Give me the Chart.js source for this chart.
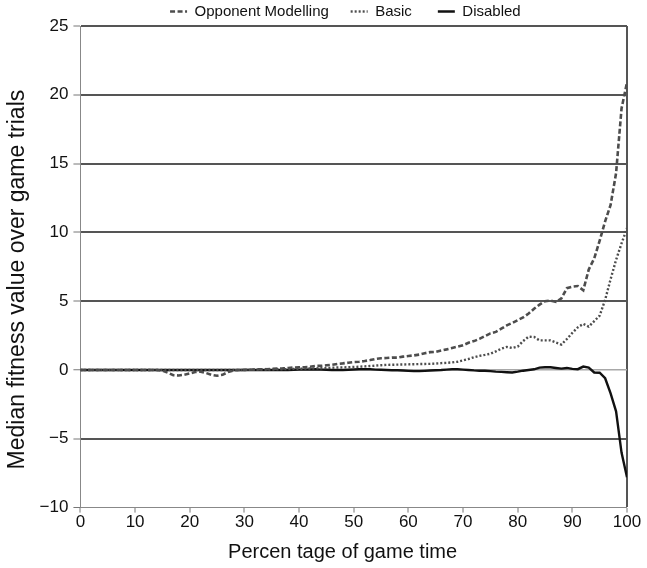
<!DOCTYPE html>
<html>
<head>
<meta charset="utf-8">
<script src="https://cdn.jsdelivr.net/npm/chart.js@4.4.1/dist/chart.umd.min.js"></script>
<style>
  html, body { margin: 0; padding: 0; background: #fff; }
  #wrap { width: 647px; height: 568px; position: relative; }
</style>
</head>
<body>
<div id="wrap"><canvas id="chart"></canvas></div>
<script>
// percentage of game time
const gameTime = [
  0, 1, 2, 3, 4, 5, 6, 7, 8, 9, 10, 11, 12, 13, 14, 15, 16, 17, 18, 19,
  20, 21, 22, 23, 24, 25, 26, 27, 28, 29, 30, 31, 32, 33, 34, 35, 36, 37, 38, 39,
  40, 41, 42, 43, 44, 45, 46, 47, 48, 49, 50, 51, 52, 53, 54, 55, 56, 57, 58, 59,
  60, 61, 62, 63, 64, 65, 66, 67, 68, 69, 70, 71, 72, 73, 74, 75, 76, 77, 78, 79,
  80, 81, 82, 83, 84, 85, 86, 87, 88, 89, 90, 91, 92, 93, 94, 95, 96, 97, 98, 99, 100
];

const opponentModelling = [
  0, 0, 0, 0, 0, 0, 0, 0, 0, 0, 0, 0, 0, 0, 0, -0.05, -0.2, -0.38, -0.4, -0.34,
  -0.25, -0.15, -0.12, -0.22, -0.35, -0.42, -0.35, -0.15, -0.03, 0, 0.01, 0.02, 0.04, 0.05, 0.06, 0.08, 0.1, 0.12, 0.15, 0.18,
  0.2, 0.2, 0.24, 0.3, 0.3, 0.34, 0.38, 0.44, 0.48, 0.53, 0.58, 0.6, 0.65, 0.72, 0.8, 0.85, 0.87, 0.9, 0.9, 0.97,
  1.02, 1.06, 1.12, 1.22, 1.3, 1.32, 1.42, 1.5, 1.6, 1.7, 1.8, 1.98, 2.1, 2.26, 2.46, 2.66, 2.77, 3.0, 3.24, 3.42,
  3.62, 3.82, 4.1, 4.45, 4.75, 5.0, 5.05, 4.95, 5.2, 5.95, 6.05, 6.1, 5.8, 7.3, 8.1, 9.4, 10.8, 12.0, 14.3, 19.0, 20.9
];

const basic = [
  0, 0, 0, 0, 0, 0, 0, 0, 0, 0, 0, 0, 0, 0, 0, 0, 0, 0, 0, 0,
  0, 0, 0, 0, 0, 0, 0, 0, 0, 0, 0, 0.02, 0.02, 0.03, 0.03, 0.04, 0.05, 0.06, 0.07, 0.08,
  0.09, 0.1, 0.11, 0.12, 0.13, 0.14, 0.16, 0.18, 0.19, 0.2, 0.22, 0.24, 0.26, 0.29, 0.32, 0.35, 0.37, 0.38, 0.39, 0.4,
  0.41, 0.42, 0.43, 0.44, 0.45, 0.47, 0.5, 0.52, 0.55, 0.6, 0.7, 0.8, 0.93, 1.03, 1.1, 1.18, 1.35, 1.55, 1.68, 1.6,
  1.7, 2.1, 2.42, 2.4, 2.15, 2.15, 2.15, 2.0, 1.85, 2.25, 2.7, 3.1, 3.35, 3.15, 3.55, 3.95, 5.1, 6.6, 8.0, 9.2, 10.3
];

const disabled = [
  0, 0, 0, 0, 0, 0, 0, 0, 0, 0, 0, 0, 0, 0, 0, 0, 0, 0, 0, 0,
  0, 0, 0, 0, 0, 0, 0, 0, 0, 0, 0, 0, 0, 0, 0, 0, 0, 0, 0, 0.02,
  0.03, 0.03, 0.04, 0.05, 0.03, 0.02, 0, 0, 0, 0.02, 0.04, 0.05, 0.05, 0.05, 0.03, 0.02, 0, -0.02, -0.02, -0.04,
  -0.06, -0.08, -0.08, -0.06, -0.04, -0.02, 0, 0.03, 0.05, 0.05, 0.03, 0, -0.03, -0.05, -0.05, -0.08, -0.12, -0.14, -0.16, -0.18,
  -0.12, -0.05, 0, 0.05, 0.17, 0.2, 0.2, 0.15, 0.1, 0.15, 0.08, 0.06, 0.25, 0.18, -0.18, -0.2, -0.6, -1.7, -3.0, -6.0, -7.8
];

const seriesLabels = ["Opponent Modelling", "Basic", "Disabled"];
const yTicks = [-10, -5, 0, 5, 10, 15, 20, 25];
const xTicks = [0, 10, 20, 30, 40, 50, 60, 70, 80, 90, 100];

const toPoints = ys => gameTime.map((x, i) => ({ x: x, y: ys[i] }));

const font = "'Liberation Sans', Arial, sans-serif";
// trailing spaces only widen the legend items, to match the wide gaps of the original
const legendGap = ["     ", "      ", "    "];

const chart = new Chart(document.getElementById("chart"), {
  type: "line",
  data: {
    datasets: [
      {
        label: seriesLabels[0],
        data: toPoints(opponentModelling),
        borderColor: "#4d4d4d",
        borderWidth: 2.6,
        borderDash: [5, 2.5]
      },
      {
        label: seriesLabels[1],
        data: toPoints(basic),
        borderColor: "#4d4d4d",
        borderWidth: 2.4,
        borderDash: [2, 2]
      },
      {
        label: seriesLabels[2],
        data: toPoints(disabled),
        borderColor: "#111111",
        borderWidth: 2.4
      }
    ]
  },
  options: {
    responsive: true,
    maintainAspectRatio: false,
    animation: false,
    elements: {
      point: { radius: 0 },
      line: { tension: 0, fill: false }
    },
    layout: { padding: { top: 3, right: 20, bottom: 2, left: 0 } },
    plugins: {
      tooltip: { enabled: false },
      legend: {
        position: "top",
        fullSize: false,
        maxHeight: 23,
        labels: {
          color: "#111",
          font: { family: font, size: 15 },
          usePointStyle: true,
          pointStyle: "line",
          pointStyleWidth: 17,
          boxHeight: 10,
          padding: 1,
          generateLabels: c => {
            const items = Chart.defaults.plugins.legend.labels.generateLabels(c);
            items.forEach((it, i) => {
              const ds = c.data.datasets[it.datasetIndex];
              it.text = it.text + legendGap[i];
              it.lineWidth = 2.4;
              it.strokeStyle = ds.borderColor;
              it.lineDash = ds.borderDash || [];
            });
            return items;
          }
        }
      }
    },
    scales: {
      x: {
        type: "linear",
        min: 0,
        max: 100,
        afterBuildTicks: axis => { axis.ticks = xTicks.map(v => ({ value: v })); },
        ticks: {
          color: "#111",
          font: { family: font, size: 17 },
          padding: 0,
          maxRotation: 0
        },
        grid: {
          drawOnChartArea: true,
          color: ctx => (ctx.tick && ctx.tick.value === 100 ? "#555" : "rgba(0,0,0,0)"),
          lineWidth: ctx => (ctx.tick && ctx.tick.value === 100 ? 2 : 0),
          tickColor: "#777",
          tickLength: 5,
          tickWidth: 1
        },
        border: { display: true, color: "#888", width: 1 },
        title: {
          display: true,
          // trailing spaces move the centred title a little left, as in the original
          text: "Percen tage of game time    ",
          color: "#111",
          font: { family: font, size: 20 },
          padding: { top: 7, bottom: 2 }
        }
      },
      y: {
        min: -10,
        max: 25,
        afterBuildTicks: axis => { axis.ticks = yTicks.map(v => ({ value: v })); },
        ticks: {
          color: "#111",
          font: { family: font, size: 17 },
          padding: 5,
          callback: v => (v < 0 ? "\u2212" + Math.abs(v) : String(v))
        },
        grid: {
          color: ctx => {
            const v = ctx.tick ? ctx.tick.value : null;
            if (v === 0) return "#a8a8a8";
            if (v === -10) return "#888";
            return "#555";
          },
          lineWidth: ctx => {
            const v = ctx.tick ? ctx.tick.value : null;
            if (v === -10) return 1;
            if (v === 0) return 1.5;
            return 2;
          },
          tickColor: "#777",
          tickLength: 7,
          tickWidth: 1
        },
        border: { display: true, color: "#888", width: 1 },
        title: {
          display: true,
          // trailing spaces push the centred title down a little, as in the original
          text: "Median fitness value over game trials    ",
          color: "#111",
          font: { family: font, size: 23 },
          padding: { top: 4, bottom: 3 }
        }
      }
    }
  }
});
</script>
</body>
</html>
